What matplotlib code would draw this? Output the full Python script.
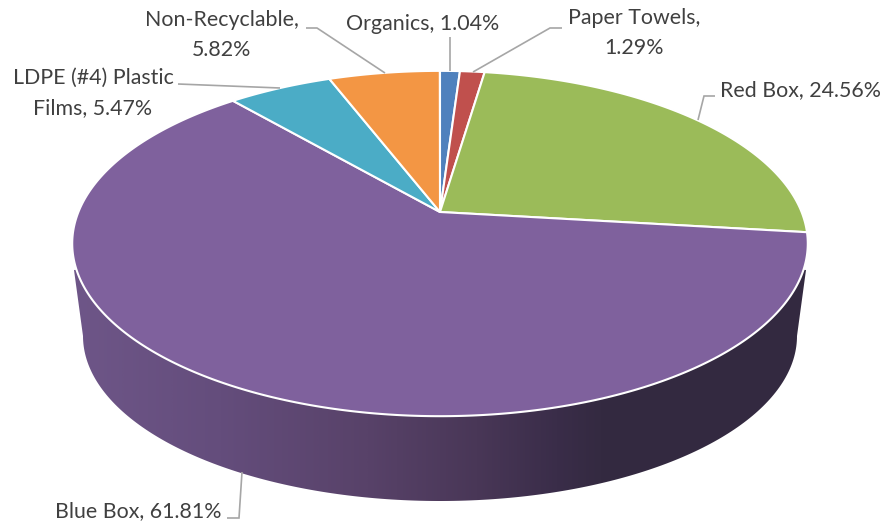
"""
Pie with a perspective top and a shaded side wall
"""

import numpy as np
import matplotlib
matplotlib.use("Agg")
import matplotlib.pyplot as plt
from matplotlib.colors import LinearSegmentedColormap
from matplotlib.patches import Polygon

# Slices in drawing order, clockwise from twelve o'clock
categories = [
    "Organics",
    "Paper Towels",
    "Red Box",
    "Blue Box",
    "LDPE (#4) Plastic Films",
    "Non-Recyclable",
]
shares = [1.04, 1.29, 24.56, 61.81, 5.47, 5.82]
slice_colors = ["#4f81bd", "#c0504d", "#9bbb59", "#7f619d", "#4bacc6", "#f39644"]

label_texts = [
    "Organics, 1.04%",
    "Paper Towels,\n1.29%",
    "Red Box, 24.56%",
    "Blue Box, 61.81%",
    "LDPE (#4) Plastic\nFilms, 5.47%",
    "Non-Recyclable,\n5.82%",
]
label_centers = [(423, 24.5), (634, 33), (801, 90), (138, 511.5), (93, 93), (222, 35)]
leader_lines = [
    [(450, 37), (450, 71)],
    [(562, 28), (550, 28), (473, 72)],
    [(715, 96), (704, 96), (698, 120)],
    [(227, 518), (239, 518), (242, 472)],
    [(178, 84), (280, 88)],
    [(306, 28), (317, 28), (385, 73)],
]

# Perspective of the top face, in image pixels
CENTER_X, CENTER_Y = 440, 212
TILT = 0.1826
SCALE_X, SCALE_Y = 361.6, 166.9

# Side wall shading from left to right
wall_colors = [
    (0.00, "#6e5688"),
    (0.20, "#644d7c"),
    (0.40, "#584269"),
    (0.55, "#493757"),
    (0.66, "#3a2d49"),
    (0.72, "#342a41"),
    (1.00, "#332940"),
]


def project(angle):
    """Map a clockwise angle from the top onto the tilted disc."""
    u = np.sin(angle)
    v = -np.cos(angle)
    w = 1 - TILT * v
    return CENTER_X + SCALE_X * u / w, CENTER_Y + SCALE_Y * v / w


def draw_wall(ax):
    t = np.radians(np.linspace(0, 180, 200))
    bottom_x = 440 - 357 * np.cos(t)
    bottom_y = 336 + 165 * np.sin(t)
    xs = np.concatenate([[74], bottom_x, [806, 440]])
    ys = np.concatenate([[270], bottom_y, [270, 240]])
    clip = Polygon(np.column_stack([xs, ys]), closed=True, transform=ax.transData,
                   facecolor="none", edgecolor="none")
    ax.add_patch(clip)
    cmap = LinearSegmentedColormap.from_list("wall", wall_colors)
    gradient = np.linspace(0, 1, 512).reshape(1, -1)
    image = ax.imshow(gradient, cmap=cmap, extent=(73, 807, 505, 230), aspect="auto",
                      interpolation="bilinear", zorder=1)
    image.set_clip_path(clip)


def draw_slices(ax):
    edges = np.cumsum([0] + shares) / 100 * 2 * np.pi
    for start, stop, color in zip(edges[:-1], edges[1:], slice_colors):
        angles = np.linspace(start, stop, max(int((stop - start) * 120), 8))
        rim_x, rim_y = project(angles)
        xs = np.concatenate([[CENTER_X], rim_x])
        ys = np.concatenate([[CENTER_Y], rim_y])
        ax.add_patch(Polygon(np.column_stack([xs, ys]), closed=True, facecolor=color,
                             edgecolor="white", linewidth=1.5, joinstyle="round", zorder=2))


fig = plt.figure(figsize=(8.85, 5.23), dpi=100)
ax = fig.add_axes([0, 0, 1, 1])

draw_wall(ax)
draw_slices(ax)

for line in leader_lines:
    ax.plot(*zip(*line), color="#a6a6a6", linewidth=1.2, zorder=3,
            solid_joinstyle="miter", solid_capstyle="butt")

for text, (x, y) in zip(label_texts, label_centers):
    ax.text(x, y, text, family="Lato", fontsize=15.4, color="#404040", ha="center",
            va="center", linespacing=1.6, zorder=4)

ax.set_xlim(0, 885)
ax.set_ylim(523, 0)
ax.axis("off")

fig.savefig("out.png", dpi=100)
